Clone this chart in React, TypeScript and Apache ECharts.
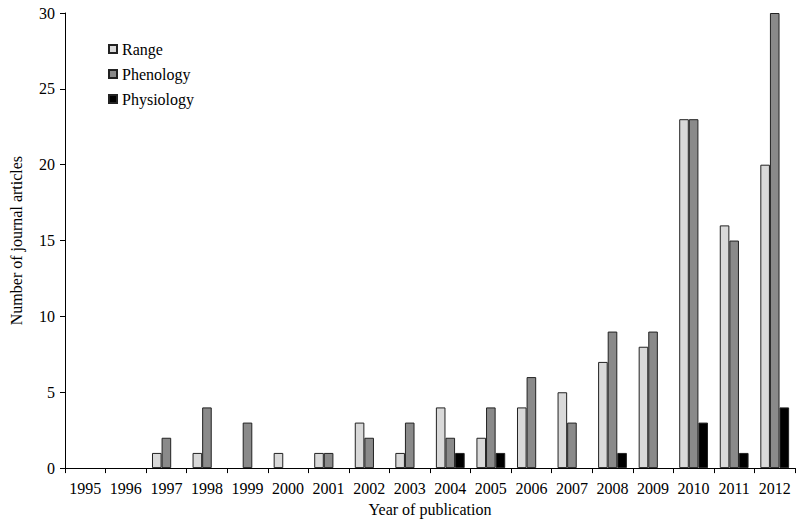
import React, { useEffect, useRef } from "react";
import * as echarts from "echarts";

const years = ["1995","1996","1997","1998","1999","2000","2001","2002","2003","2004","2005","2006","2007","2008","2009","2010","2011","2012"];
const range = [0,0,1,1,0,1,1,3,1,4,2,4,5,7,8,23,16,20];
const phenology = [0,0,2,4,3,0,1,2,3,2,4,6,3,9,9,23,15,30];
const physiology = [0,0,0,0,0,0,0,0,0,1,1,0,0,1,0,3,1,4];

const FONT = "Liberation Serif";

export default function App() {
  const ref = useRef<HTMLDivElement>(null);
  useEffect(() => {
    const chart = echarts.init(ref.current!, null, { renderer: "svg" });
    const bar = (name: string, data: number[], color: string) => ({
      name,
      type: "bar",
      data: data.map((v) => ({
        value: v,
        itemStyle: { borderWidth: v > 0 ? 1 : 0, borderColor: "#222" },
      })),
      barGap: "0%",
      barCategoryGap: "29%",
      itemStyle: { color, borderColor: "#222", borderWidth: 1 },
    });
    chart.setOption({
      animation: false,
      backgroundColor: "#ffffff",
      textStyle: { fontFamily: FONT },
      legend: {
        orient: "vertical",
        left: 103,
        top: 36,
        icon: "rect",
        itemWidth: 8,
        itemHeight: 8,
        itemGap: 9,
        textStyle: { fontFamily: FONT, fontSize: 16, color: "#000" },
        data: ["Range", "Phenology", "Physiology"],
      },
      grid: { left: 59, right: 5, top: 13, bottom: 51, containLabel: false },
      xAxis: {
        type: "category",
        data: years,
        name: "Year of publication",
        nameLocation: "middle",
        nameGap: 32,
        nameTextStyle: { fontFamily: FONT, fontSize: 16, color: "#000" },
        axisLine: { lineStyle: { color: "#000", width: 1 } },
        axisTick: { show: true, alignWithLabel: false, length: 5, lineStyle: { color: "#000" } },
        axisLabel: { fontFamily: FONT, fontSize: 16, color: "#000", margin: 12, interval: 0 },
      },
      yAxis: {
        type: "value",
        min: 0,
        max: 30,
        interval: 5,
        name: "Number of journal articles",
        nameLocation: "middle",
        nameGap: 41,
        nameTextStyle: { fontFamily: FONT, fontSize: 16, color: "#000" },
        axisLine: { show: true, lineStyle: { color: "#000", width: 1 } },
        axisTick: { show: true, length: 5, lineStyle: { color: "#000" } },
        axisLabel: { fontFamily: FONT, fontSize: 16, color: "#000", margin: 10 },
        splitLine: { show: false },
      },
      series: [
        bar("Range", range, "#d9d9d9"),
        bar("Phenology", phenology, "#8a8a8a"),
        bar("Physiology", physiology, "#000000"),
      ],
    });
    return () => chart.dispose();
  }, []);
  return (
    <div
      ref={ref}
      style={{ width: 800, height: 522, position: "fixed", left: 0, top: 0 }}
    />
  );
}
